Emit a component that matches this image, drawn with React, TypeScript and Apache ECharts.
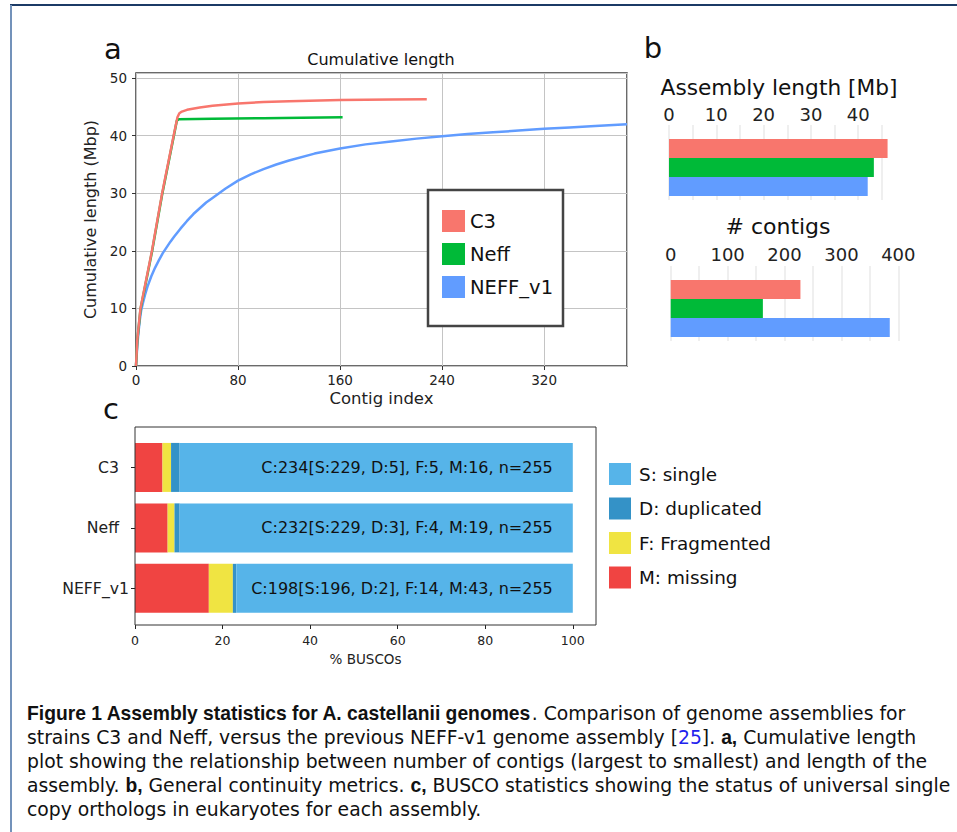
import React, { useEffect, useRef } from "react";
import * as echarts from "echarts";

// ---------- DATA ----------
const assemblies = ["C3", "Neff", "NEFF_v1"];
const assemblyColors = ["#F8766D", "#00BA38", "#619CFF"];

// Panel a: cumulative length curves [contig index, cumulative Mbp]
const c3Curve = [
  [0, 0], [1, 4.5], [3.5, 10], [12.5, 20], [20.5, 30], [29.5, 40], [32.5, 43.2],
  [34, 43.9], [36, 44.2], [40, 44.5], [50, 44.9], [60, 45.2], [80, 45.6],
  [100, 45.85], [120, 46.0], [160, 46.2], [200, 46.28], [228, 46.32],
];
const neffCurve = [
  [0, 0], [1, 4.3], [3.5, 9.8], [12.5, 19.8], [20.5, 29.8], [29.5, 39.8], [32, 42.6],
  [33.5, 42.85], [60, 42.95], [100, 43.05], [130, 43.12], [162, 43.2],
];
const neffV1Curve = [
  [0, 0], [1, 3.5], [2, 6], [3, 8], [4, 9.6], [5.5, 11], [7, 12.3], [9, 13.8], [12, 15.6],
  [15, 17.1], [18, 18.4], [21, 19.6], [24, 20.6], [27, 21.6], [30, 22.5], [35, 23.9],
  [40, 25.2], [45, 26.4], [50, 27.4], [55, 28.4], [60, 29.2], [70, 30.8], [80, 32.2],
  [90, 33.3], [100, 34.2], [110, 35.0], [120, 35.7], [140, 36.9], [160, 37.8],
  [180, 38.5], [200, 39.0], [220, 39.5], [240, 39.9], [260, 40.3], [280, 40.6],
  [300, 40.9], [320, 41.2], [340, 41.45], [360, 41.7], [385, 42.0],
];

// Panel b
const assemblyLengthMb = [46.2, 43.3, 42.0];
const contigCounts = [228, 162, 385];

// Panel c: BUSCO counts
const buscoTotal = 255;
const buscoSingle = [229, 229, 196];
const buscoDuplicated = [5, 3, 2];
const buscoFragmented = [5, 4, 14];
const buscoMissing = [16, 19, 43];
const buscoLegend = ["S: single", "D: duplicated", "F: Fragmented", "M: missing"];
const buscoColors = ["#56B4E9", "#3492C7", "#F0E442", "#F04442"];

const captionLines = [
  "{b|Figure 1 Assembly statistics for A. castellanii genomes}. Comparison of genome assemblies for",
  "strains C3 and Neff, versus the previous NEFF-v1 genome assembly [{blue|25}]. {b|a,} Cumulative length",
  "plot showing the relationship between number of contigs (largest to smallest) and length of the",
  "assembly. {b|b,} General continuity metrics. {b|c,} BUSCO statistics showing the status of universal single",
  "copy orthologs in eukaryotes for each assembly.",
];

const FONT = "DejaVu Sans";
const CAP_FONT = "DejaVu Sans";
const CAP_BOLD_FONT = "Liberation Sans";
const CAP_SIZE = 18.8;

export default function App() {
  const ref = useRef<HTMLDivElement>(null);

  useEffect(() => {
    if (!ref.current) return;
    const chart = echarts.init(ref.current, undefined, { renderer: "svg" });

    const pct = (arr: number[]) => arr.map((v) => (v / buscoTotal) * 100);
    const buscoLabels = assemblies.map(
      (_, i) =>
        `C:${buscoSingle[i] + buscoDuplicated[i]}[S:${buscoSingle[i]}, D:${buscoDuplicated[i]}], F:${buscoFragmented[i]}, M:${buscoMissing[i]}, n=${buscoTotal}`
    );

    const txt = (text: string, x: number, y: number, size: number, extra: any = {}) => ({
      type: "text",
      x,
      y,
      z: 20,
      style: {
        text,
        fill: "#111",
        fontSize: size,
        fontFamily: FONT,
        align: "center",
        verticalAlign: "middle",
        ...extra,
      },
    });

    const capRich = {
      b: { fontWeight: "bold", fontSize: 19.3, fontFamily: CAP_BOLD_FONT, fill: "#111", color: "#111" },
      blue: { fontSize: CAP_SIZE, fontFamily: CAP_FONT, fill: "#2222ee", color: "#2222ee" },
    };
    const captionY = [713.5, 737.5, 761.5, 785, 809];

    const tickLabelA = { fontSize: 13.5, color: "#222", fontFamily: FONT };

    const option: any = {
      animation: false,
      textStyle: { fontFamily: FONT },
      grid: [
        { left: 136, top: 73, width: 491, height: 293, show: true, borderColor: "#3a3a3a", borderWidth: 1.5, outerBoundsMode: "none" },
        { left: 669, top: 125, width: 220, height: 75, outerBoundsMode: "none" },
        { left: 669, top: 139, width: 220, height: 57, outerBoundsMode: "none" },
        { left: 670.7, top: 266, width: 227.6, height: 75, outerBoundsMode: "none" },
        { left: 670.7, top: 280, width: 227.6, height: 57, outerBoundsMode: "none" },
        { left: 135, top: 437.2, width: 461, height: 181.35, outerBoundsMode: "none" },
      ],
      xAxis: [
        {
          gridIndex: 0, type: "value", min: 0, max: 385, interval: 80,
          axisLine: { show: false },
          axisTick: { show: true, length: 4, lineStyle: { color: "#333" } },
          axisLabel: { ...tickLabelA, margin: 7, showMaxLabel: false },
          splitLine: { show: true, lineStyle: { color: "#c4c4c4", width: 1 } },
          name: "Contig index", nameLocation: "middle", nameGap: 24,
          nameTextStyle: { fontSize: 16.5, color: "#222", fontFamily: FONT },
        },
        {
          gridIndex: 1, type: "value", position: "top", min: 0, max: 46.5, interval: 5,
          axisLine: { show: false }, axisTick: { show: false },
          axisLabel: { fontSize: 18, color: "#222", margin: 2, showMaxLabel: false,
            formatter: (v: number) => (v % 10 === 0 ? String(v) : "") },
          splitLine: { show: true, showMaxLine: false, lineStyle: { color: "#ebebeb", width: 1.6 } },
        },
        { gridIndex: 2, type: "value", min: 0, max: 46.5, show: false },
        {
          gridIndex: 3, type: "value", position: "top", min: 0, max: 400, interval: 50,
          axisLine: { show: false }, axisTick: { show: false },
          axisLabel: { fontSize: 18, color: "#222", margin: 3,
            formatter: (v: number) => (v % 100 === 0 ? String(v) : "") },
          splitLine: { show: true, lineStyle: { color: "#ebebeb", width: 1.6 } },
        },
        { gridIndex: 4, type: "value", min: 0, max: 400, show: false },
        {
          gridIndex: 5, type: "value", min: 0, max: 105.3, interval: 20, offset: 6.45,
          axisLine: { show: false },
          axisTick: { show: true, length: 4, lineStyle: { color: "#222" } },
          axisLabel: { fontSize: 12.5, color: "#222", margin: 9, showMaxLabel: false },
          splitLine: { show: false },
          name: "% BUSCOs", nameLocation: "middle", nameGap: 27,
          nameTextStyle: { fontSize: 13.5, color: "#222", fontFamily: FONT },
        },
      ],
      yAxis: [
        {
          gridIndex: 0, type: "value", min: 0, max: 50.9, interval: 10,
          axisLine: { show: false },
          axisTick: { show: true, length: 4, lineStyle: { color: "#333" } },
          axisLabel: { ...tickLabelA, margin: 9, showMaxLabel: false },
          splitLine: { show: true, lineStyle: { color: "#c4c4c4", width: 1 } },
          name: "Cumulative length (Mbp)", nameLocation: "middle", nameGap: 31,
          nameTextStyle: { fontSize: 16, color: "#222", fontFamily: FONT },
        },
        { gridIndex: 1, type: "value", min: 0, max: 1, show: false },
        { gridIndex: 2, type: "category", data: assemblies, inverse: true, show: false },
        { gridIndex: 3, type: "value", min: 0, max: 1, show: false },
        { gridIndex: 4, type: "category", data: assemblies, inverse: true, show: false },
        {
          gridIndex: 5, type: "category", data: assemblies, inverse: true,
          axisLine: { show: false },
          axisTick: { show: true, alignWithLabel: true, length: 4, lineStyle: { color: "#222" } },
          axisLabel: {
            fontSize: 15.7, color: "#222", margin: 6,
            formatter: (v: string) => (v === "NEFF_v1" ? v : `{p|${v}}`),
            rich: { p: { padding: [0, 10, 0, 0], fontSize: 15.7, color: "#222", fontFamily: FONT } },
          },
          splitLine: { show: false },
        },
      ],
      legend: [
        {
          data: assemblies, left: 442, top: 210, orient: "vertical", padding: 0,
          itemWidth: 23, itemHeight: 22, itemGap: 11, icon: "rect",
          itemStyle: { borderWidth: 0 },
          textStyle: { fontSize: 19.5, color: "#111", fontFamily: FONT, padding: [0, 0, 0, 0] },
          selectedMode: false, z: 10,
        },
        {
          data: buscoLegend, left: 609, top: 463, orient: "vertical", padding: 0,
          itemWidth: 22, itemHeight: 22, itemGap: 12.5, icon: "rect",
          itemStyle: { borderWidth: 0 },
          textStyle: { fontSize: 18.4, color: "#111", fontFamily: FONT, padding: [0, 0, 0, 3] },
          selectedMode: false,
        },
      ],
      series: [
        {
          type: "line", name: "NEFF_v1", xAxisIndex: 0, yAxisIndex: 0, data: neffV1Curve,
          showSymbol: false, symbol: "none",
          lineStyle: { color: assemblyColors[2], width: 2.5 }, itemStyle: { color: assemblyColors[2] },
        },
        {
          type: "line", name: "Neff", xAxisIndex: 0, yAxisIndex: 0, data: neffCurve,
          showSymbol: false, symbol: "none",
          lineStyle: { color: assemblyColors[1], width: 2.5 }, itemStyle: { color: assemblyColors[1] },
        },
        {
          type: "line", name: "C3", xAxisIndex: 0, yAxisIndex: 0, data: c3Curve,
          showSymbol: false, symbol: "none",
          lineStyle: { color: assemblyColors[0], width: 2.5 }, itemStyle: { color: assemblyColors[0] },
        },
        {
          type: "bar", xAxisIndex: 2, yAxisIndex: 2, barCategoryGap: "0%",
          data: assemblyLengthMb.map((v, i) => ({ value: v, itemStyle: { color: assemblyColors[i] } })),
        },
        {
          type: "bar", xAxisIndex: 4, yAxisIndex: 4, barCategoryGap: "0%",
          data: contigCounts.map((v, i) => ({ value: v, itemStyle: { color: assemblyColors[i] } })),
        },
        {
          type: "bar", name: buscoLegend[3], stack: "busco", xAxisIndex: 5, yAxisIndex: 5,
          barWidth: 49, data: pct(buscoMissing), itemStyle: { color: buscoColors[3] },
        },
        {
          type: "bar", name: buscoLegend[2], stack: "busco", xAxisIndex: 5, yAxisIndex: 5,
          barWidth: 49, data: pct(buscoFragmented), itemStyle: { color: buscoColors[2] },
        },
        {
          type: "bar", name: buscoLegend[1], stack: "busco", xAxisIndex: 5, yAxisIndex: 5,
          barWidth: 49, data: pct(buscoDuplicated), itemStyle: { color: buscoColors[1] },
        },
        {
          type: "bar", name: buscoLegend[0], stack: "busco", xAxisIndex: 5, yAxisIndex: 5,
          barWidth: 49, data: pct(buscoSingle), itemStyle: { color: buscoColors[0] },
          label: {
            show: true, position: "insideRight", distance: 20, fontSize: 16, color: "#111",
            fontFamily: FONT, formatter: (p: any) => buscoLabels[p.dataIndex],
          },
        },
      ],
      graphic: [
        { type: "line", z: 30, shape: { x1: 10, y1: 5, x2: 957, y2: 5 }, style: { stroke: "#1b3a66", lineWidth: 2 } },
        { type: "line", z: 30, shape: { x1: 11, y1: 5, x2: 11, y2: 832 }, style: { stroke: "#7392ba", lineWidth: 2 } },
        txt("a", 113, 49, 29),
        txt("b", 653, 48, 29),
        txt("c", 111, 408.5, 29),
        txt("Cumulative length", 381, 59, 16),
        txt("Assembly length [Mb]", 779, 87, 21.7),
        txt("# contigs", 778, 226, 22),
        {
          type: "rect", z: 3,
          shape: { x: 428, y: 190, width: 135, height: 136 },
          style: { fill: "#fff", stroke: "#444", lineWidth: 2.5 },
        },
        {
          type: "rect", z: 10,
          shape: { x: 135, y: 427, width: 461, height: 198 },
          style: { fill: "none", stroke: "#333", lineWidth: 1 },
        },
        ...captionLines.map((line, i) =>
          txt(line, 27, captionY[i], CAP_SIZE, {
            align: "left", fontFamily: CAP_FONT, rich: capRich,
          })
        ),
      ],
    };

    chart.setOption(option);
    return () => chart.dispose();
  }, []);

  return (
    <div
      ref={ref}
      style={{ position: "fixed", left: 0, top: 0, width: 957, height: 832, background: "#fff" }}
    />
  );
}
